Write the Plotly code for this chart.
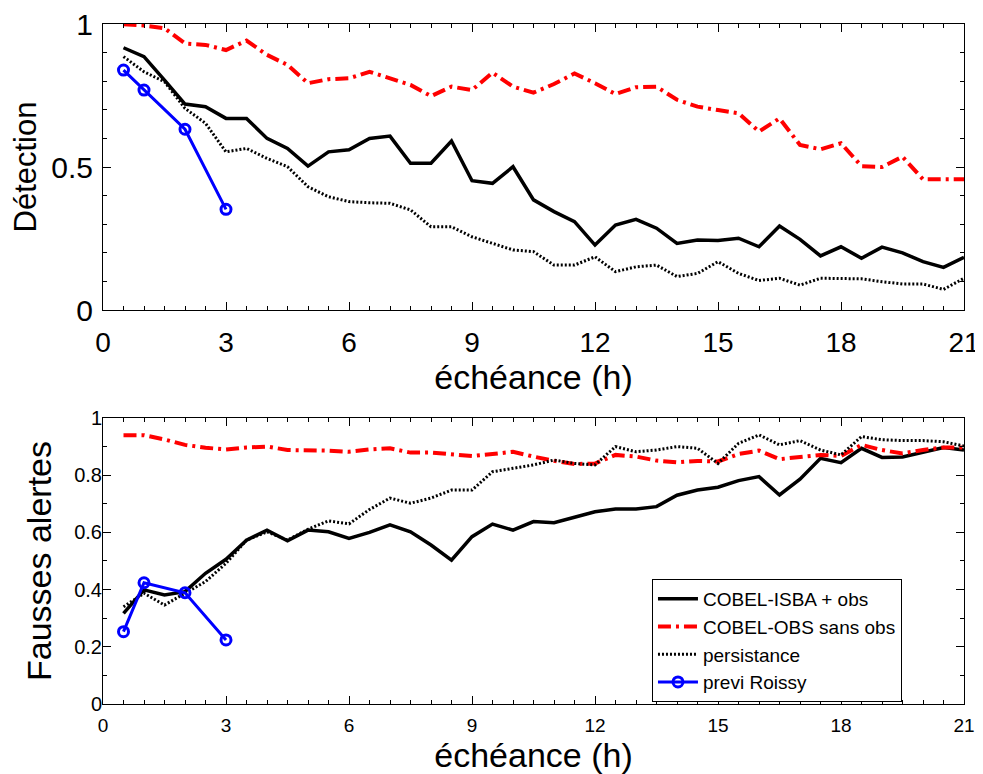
import plotly.graph_objects as go
from plotly.subplots import make_subplots

# lead time (h)
hours = [0.5 * i for i in range(1, 43)]
hours_roissy = [0.5, 1, 2, 3]

# Détection
det_cobel_isba = [0.917, 0.886, 0.804, 0.72, 0.711, 0.67, 0.67, 0.60, 0.565, 0.503,
                  0.553, 0.56, 0.60, 0.608, 0.513, 0.513, 0.591, 0.452, 0.443, 0.501,
                  0.385, 0.344, 0.309, 0.227, 0.297, 0.317, 0.286, 0.233, 0.245, 0.243,
                  0.251, 0.221, 0.294, 0.247, 0.189, 0.221, 0.181, 0.22, 0.2, 0.169,
                  0.149, 0.184]
det_cobel_obs = [0.999, 0.995, 0.985, 0.932, 0.927, 0.909, 0.942, 0.892, 0.857, 0.793,
                 0.807, 0.81, 0.833, 0.81, 0.787, 0.748, 0.781, 0.769, 0.83, 0.781,
                 0.76, 0.79, 0.827, 0.793, 0.755, 0.779, 0.781, 0.735, 0.711, 0.699,
                 0.688, 0.624, 0.67, 0.577, 0.562, 0.583, 0.503, 0.5, 0.536, 0.457,
                 0.457, 0.457]
det_persistance = [0.886, 0.833, 0.798, 0.705, 0.653, 0.553, 0.565, 0.53, 0.501, 0.431,
                   0.396, 0.379, 0.375, 0.373, 0.35, 0.291, 0.291, 0.256, 0.233, 0.21,
                   0.204, 0.157, 0.157, 0.186, 0.134, 0.151, 0.157, 0.117, 0.128, 0.169,
                   0.128, 0.103, 0.111, 0.087, 0.111, 0.111, 0.109, 0.099, 0.091, 0.091,
                   0.072, 0.111]
det_roissy = [0.839, 0.769, 0.632, 0.352]

# Fausses alertes
fa_cobel_isba = [0.317, 0.399, 0.381, 0.393, 0.457, 0.506, 0.573, 0.608, 0.571, 0.608,
                 0.602, 0.579, 0.60, 0.626, 0.602, 0.556, 0.503, 0.585, 0.629, 0.608,
                 0.638, 0.634, 0.653, 0.672, 0.682, 0.682, 0.69, 0.73, 0.748, 0.758,
                 0.781, 0.795, 0.731, 0.786, 0.859, 0.844, 0.894, 0.862, 0.864, 0.879,
                 0.897, 0.888]
fa_cobel_obs = [0.94, 0.94, 0.925, 0.906, 0.896, 0.89, 0.897, 0.9, 0.888, 0.888,
                0.886, 0.882, 0.89, 0.894, 0.879, 0.879, 0.874, 0.867, 0.874, 0.882,
                0.865, 0.85, 0.839, 0.841, 0.871, 0.865, 0.851, 0.845, 0.85, 0.848,
                0.874, 0.886, 0.856, 0.865, 0.871, 0.867, 0.906, 0.888, 0.876, 0.888,
                0.897, 0.897]
fa_persistance = [0.34, 0.387, 0.346, 0.387, 0.428, 0.492, 0.573, 0.602, 0.573, 0.611,
                  0.64, 0.63, 0.68, 0.72, 0.702, 0.72, 0.748, 0.748, 0.812, 0.824,
                  0.836, 0.853, 0.841, 0.836, 0.9, 0.882, 0.888, 0.9, 0.894, 0.841,
                  0.911, 0.941, 0.906, 0.921, 0.888, 0.871, 0.935, 0.924, 0.921, 0.921,
                  0.917, 0.902]
fa_roissy = [0.253, 0.424, 0.389, 0.224]

names = ["COBEL-ISBA + obs", "COBEL-OBS sans obs", "persistance", "previ Roissy"]
xtick_vals = [0, 3, 6, 9, 12, 15, 18, 21]

FONT = "Liberation Sans, Arial, sans-serif"

fig = make_subplots(rows=2, cols=1, vertical_spacing=0.0)

styles = [
    dict(color="black", width=3.5, dash="solid"),
    dict(color="#ff0000", width=4, dash="13px,5px,3px,5px"),
    dict(color="black", width=3, dash="2px,2px"),
]

for row, series, roissy in [(1, [det_cobel_isba, det_cobel_obs, det_persistance], det_roissy),
                            (2, [fa_cobel_isba, fa_cobel_obs, fa_persistance], fa_roissy)]:
    for i, ys in enumerate(series):
        fig.add_trace(go.Scatter(x=hours, y=ys, mode="lines", name=names[i],
                                 line=styles[i], showlegend=(row == 2)), row=row, col=1)
    fig.add_trace(go.Scatter(x=hours_roissy, y=roissy, mode="lines+markers", name=names[3],
                             line=dict(color="#0000ff", width=3),
                             marker=dict(symbol="circle-open", size=10, color="#0000ff",
                                         line=dict(width=3, color="#0000ff")),
                             showlegend=(row == 2)), row=row, col=1)

axis_common = dict(showline=True, linecolor="black", linewidth=1, mirror="allticks",
                   ticks="inside", ticklen=8, tickcolor="black", showgrid=False,
                   zeroline=False, ticklabeloverflow="allow")

fig.update_xaxes(**axis_common, range=[0, 21], tickvals=xtick_vals,
                 minor=dict(dtick=0.5, ticklen=4, ticks="inside", tickcolor="black",
                            showgrid=False))
fig.update_xaxes(row=1, col=1, tickfont=dict(size=28, family=FONT, color="black"),
                 ticklabelstandoff=7,
                 title=dict(text="échéance (h)", font=dict(size=34, family=FONT, color="black"),
                            standoff=0))
fig.update_xaxes(row=2, col=1, tickfont=dict(size=19, family=FONT, color="black"),
                 ticklabelstandoff=4,
                 title=dict(text="échéance (h)", font=dict(size=34, family=FONT, color="black"),
                            standoff=6))

fig.update_yaxes(**axis_common)
fig.update_yaxes(row=1, col=1, range=[0, 1], tickvals=[0, 0.5, 1], ticktext=["0", "0.5", "1"],
                 minor=dict(dtick=0.1, ticklen=4, ticks="inside", tickcolor="black",
                            showgrid=False),
                 tickfont=dict(size=30, family=FONT, color="black"),
                 ticklabelstandoff=3,
                 title=dict(text="Détection", font=dict(size=31, family=FONT, color="black"),
                            standoff=6),
                 domain=[0.5794, 1.0])
fig.update_yaxes(row=2, col=1, range=[0, 1], tickvals=[0, 0.2, 0.4, 0.6, 0.8, 1],
                 ticktext=["0", "0.2", "0.4", "0.6", "0.8", "1"],
                 minor=dict(dtick=0.1, ticklen=4, ticks="inside", tickcolor="black",
                            showgrid=False),
                 tickfont=dict(size=20, family=FONT, color="black"),
                 ticklabelstandoff=-4,
                 title=dict(text="Fausses alertes", font=dict(size=34, family=FONT, color="black"),
                            standoff=12),
                 domain=[0.0, 0.4206])

fig.update_layout(
    width=983, height=774,
    margin=dict(l=95, r=27, t=16, b=78, autoexpand=False),
    paper_bgcolor="white", plot_bgcolor="white",
    font=dict(family=FONT, color="black"),
    legend=dict(x=0.6376, y=0.1838, xanchor="left", yanchor="top",
                bordercolor="black", borderwidth=1, bgcolor="white",
                font=dict(size=19, family=FONT, color="black"),
                tracegroupgap=0, itemwidth=40, entrywidth=245, entrywidthmode="pixels"),
)

fig.write_html("out.html")
